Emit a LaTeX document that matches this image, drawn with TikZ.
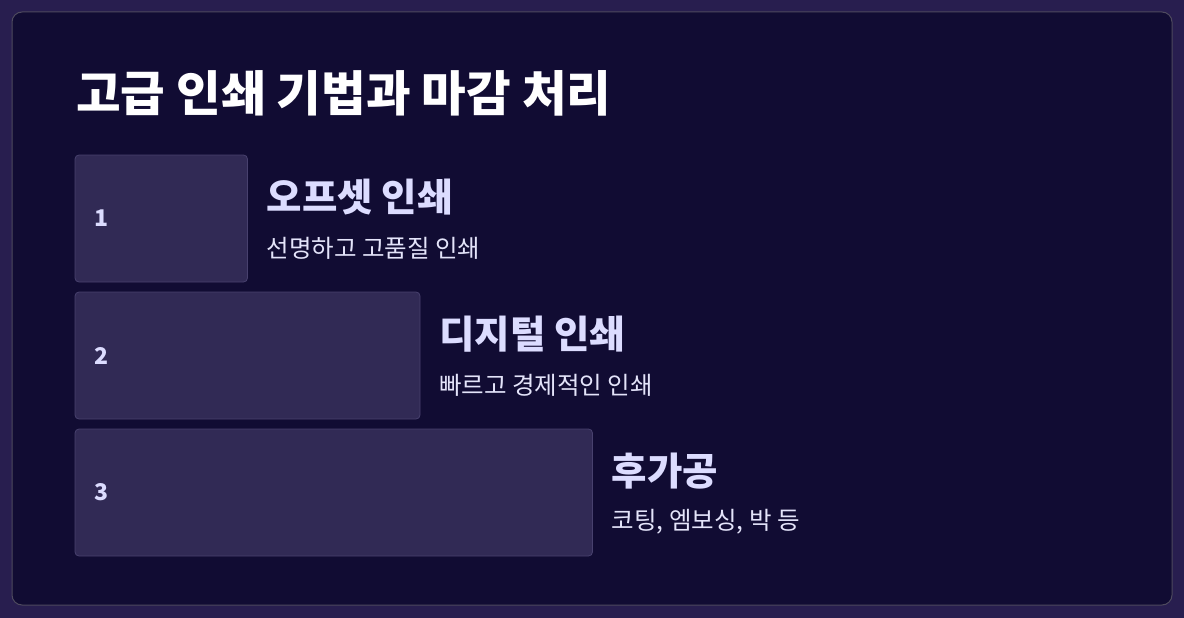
\documentclass[tikz,border=0pt]{standalone}
\usepackage{fontspec}
\setmainfont{Noto Sans CJK KR}
\usepackage{xcolor}
\usepackage{tikz}
\usetikzlibrary{calc,positioning}

\definecolor{pagebg}{HTML}{281E4F}
\definecolor{cardbg}{HTML}{110C33}
\definecolor{cardline}{HTML}{4E4A5E}
\definecolor{barfill}{HTML}{312A55}
\definecolor{barline}{HTML}{48416E}
\definecolor{headtxt}{HTML}{DCDCFF}
\definecolor{subtxt}{HTML}{E4E4FA}

\tikzset{
  bar/.style={draw=barline, fill=barfill, rounded corners=4pt, line width=0.8pt},
  numtxt/.style={anchor=west, inner sep=0pt, text=headtxt, font=\fontsize{23}{27}\selectfont\bfseries},
  headline/.style={anchor=west, inner sep=0pt, text=headtxt, font=\fontsize{38.5}{44}\selectfont\bfseries},
  subline/.style={anchor=west, inner sep=0pt, text=subtxt, font=\fontsize{24.5}{29}\selectfont}
}

\begin{document}
\begin{tikzpicture}[x=1pt,y=-1pt]
  \fill[pagebg] (0,0) rectangle (1184,618);
  \useasboundingbox (0,0) rectangle (1184,618);
  \draw[cardline, fill=cardbg, rounded corners=10pt, line width=1pt] (12,12) rectangle (1172,605);
  \node[anchor=west, inner sep=0pt, text=white, font=\fontsize{48.5}{56}\selectfont\bfseries] (title) at (76,93) {고급 인쇄 기법과 마감 처리};
  % one row per step, bar grows with the step
  \foreach \i/\head/\sub in {1/오프셋 인쇄/선명하고 고품질 인쇄, 2/디지털 인쇄/빠르고 경제적인 인쇄, 3/후가공/{코팅, 엠보싱, 박 등}}{
     \coordinate (top\i) at (75,{155+137*(\i-1)});
     \draw[bar] (top\i) rectangle ++({172.5*\i},127) coordinate (bot\i);
     \node[numtxt] (num\i) at ($(top\i)+(19,63.5)$) {\i};
     \node[headline] (head\i) at ($(bot\i)+(19,-85)$) {\head};
     \node[subline] (sub\i) at ($(bot\i)+(19,-34)$) {\sub};
  }
\end{tikzpicture}
\end{document}
